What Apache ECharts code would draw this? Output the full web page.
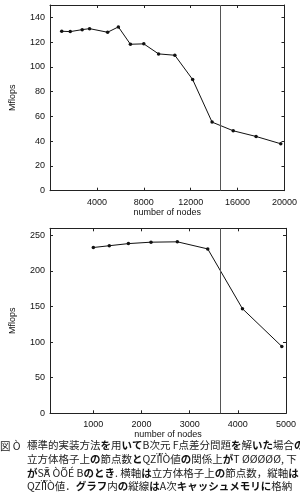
<!DOCTYPE html>
<html>
<head>
<meta charset="utf-8">
<script src="https://cdn.jsdelivr.net/npm/echarts@6/dist/echarts.min.js"></script>
<style>
html,body{margin:0;padding:0;background:#fff;}
#c{width:300px;height:497px;}
</style>
</head>
<body>
<div id="c"></div>
<script>
// ---- data ----
var topNodes = [1000, 1728, 2744, 3375, 4913, 5832, 6859, 8000, 9261, 10648, 12167, 13824, 15625, 17576, 19683];
var topMflops = [128.8, 128.5, 130.1, 130.9, 128.0, 132.3, 118.3, 118.6, 110.5, 109.4, 89.8, 55.4, 48.4, 43.8, 37.9];
var topCacheLine = 14500;
var topXTicks = [4000, 8000, 12000, 16000, 20000];
var topYTicks = [0, 20, 40, 60, 80, 100, 120, 140];

var botNodes = [1000, 1331, 1728, 2197, 2744, 3375, 4096, 4913];
var botMflops = [233, 235.5, 238.5, 240.5, 241, 231, 147, 94];
var botCacheLine = 3630;
var botXTicks = [1000, 2000, 3000, 4000, 5000];
var botYTicks = [0, 50, 100, 150, 200, 250];

var xName = 'number of nodes';
var yName = 'Mflops';

var captionHead = '図 Ò';
var captionLines = [
  '標準的実装方法{b|を}用{b|いて}B次元 F点差分問題{b|を}解{b|いた}場合{b|の}',
  '立方体格子上{b|の}節点数{b|と}QŻÏĨÒ値{b|の}関係上{b|が}T ØØØØØ, 下',
  '{b|が}ŠĀ ÒÕÉ B{b|のとき}. 横軸{b|は}立方体格子上{b|の}節点数，縦軸{b|は}',
  'QŻÏĨÒ値．{b|グラフ}内{b|の}縦線{b|は}A次{b|キャッシュメモリに}格納'
];

// ---- chart ----
var FONT = 'Liberation Sans';
var FS = 9;
var frameColor = '#222';
function plain(v) { return String(v); }

function pair(arr, vals) { return arr.map(function (v, i) { return [v, vals[i]]; }); }

function xAxes(gi, min, max, ticks, nameGap) {
  return [{
    type: 'value', gridIndex: gi, min: min, max: max, position: 'bottom',
    name: xName, nameLocation: 'middle', nameGap: nameGap,
    nameTextStyle: {fontFamily: FONT, fontSize: FS, color: '#111'},
    axisLine: {show: true, onZero: false, lineStyle: {color: frameColor, width: 1}},
    axisTick: {show: true, inside: true, length: 3, customValues: ticks, lineStyle: {color: frameColor}},
    axisLabel: {show: true, margin: 7, customValues: ticks, formatter: plain, fontFamily: FONT, fontSize: FS, color: '#111'},
    splitLine: {show: false}
  }, {
    type: 'value', gridIndex: gi, min: min, max: max, position: 'top',
    axisLine: {show: true, onZero: false, lineStyle: {color: frameColor, width: 1}},
    axisTick: {show: true, inside: true, length: 3, customValues: ticks, lineStyle: {color: frameColor}},
    axisLabel: {show: false},
    splitLine: {show: false}
  }];
}
function yAxes(gi, min, max, ticks) {
  return [{
    type: 'value', gridIndex: gi, min: min, max: max, position: 'left',
    name: yName, nameLocation: 'middle', nameGap: 33, nameRotate: 90,
    nameTextStyle: {fontFamily: FONT, fontSize: FS, color: '#111'},
    axisLine: {show: true, onZero: false, lineStyle: {color: frameColor, width: 1}},
    axisTick: {show: true, inside: true, length: 3, customValues: ticks, lineStyle: {color: frameColor}},
    axisLabel: {show: true, margin: 5, customValues: ticks, formatter: plain, fontFamily: FONT, fontSize: FS, color: '#111'},
    splitLine: {show: false}
  }, {
    type: 'value', gridIndex: gi, min: min, max: max, position: 'right',
    axisLine: {show: true, onZero: false, lineStyle: {color: frameColor, width: 1}},
    axisTick: {show: true, inside: true, length: 3, customValues: ticks, lineStyle: {color: frameColor}},
    axisLabel: {show: false},
    splitLine: {show: false}
  }];
}

function series(xi, yi, data, vline) {
  return {
    type: 'line', xAxisIndex: xi, yAxisIndex: yi, data: data,
    symbol: 'circle', symbolSize: 3.5, showSymbol: true,
    itemStyle: {color: '#111'},
    lineStyle: {color: '#111', width: 1},
    silent: true, animation: false,
    markLine: {
      silent: true, symbol: ['none', 'none'], label: {show: false},
      lineStyle: {color: '#555', width: 1, type: 'solid'},
      data: [{xAxis: vline}]
    }
  };
}

var chart = echarts.init(document.getElementById('c'), null, {renderer: 'canvas'});
var graphics = [{
  type: 'text', left: 0, top: 441,
  style: {text: captionHead, font: '10.5px "Noto Sans CJK JP"', fill: '#222'}
}];
captionLines.forEach(function (t, i) {
  graphics.push({
    type: 'text', left: 27, top: 440 + i * 13.7,
    style: {
      text: t, font: '10.5px "Noto Sans CJK JP"', fill: '#222',
      rich: {b: {fontFamily: 'Noto Sans CJK JP', fontSize: 10.5, fontWeight: 'bold', fill: '#111'}}
    }
  });
});

chart.setOption({
  animation: false,
  backgroundColor: '#fff',
  grid: [
    {left: 50, top: 5, width: 236, height: 185.7, containLabel: false},
    {left: 50, top: 228.3, width: 236, height: 185, containLabel: false}
  ],
  xAxis: xAxes(0, 0, 20000, topXTicks, 14).concat(xAxes(1, 100, 5000, botXTicks, 15)),
  yAxis: yAxes(0, 0, 150, topYTicks).concat(yAxes(1, 0, 260, botYTicks)),
  series: [
    series(0, 0, pair(topNodes, topMflops), topCacheLine),
    series(2, 2, pair(botNodes, botMflops), botCacheLine)
  ],
  graphic: graphics
});
</script>
</body>
</html>
